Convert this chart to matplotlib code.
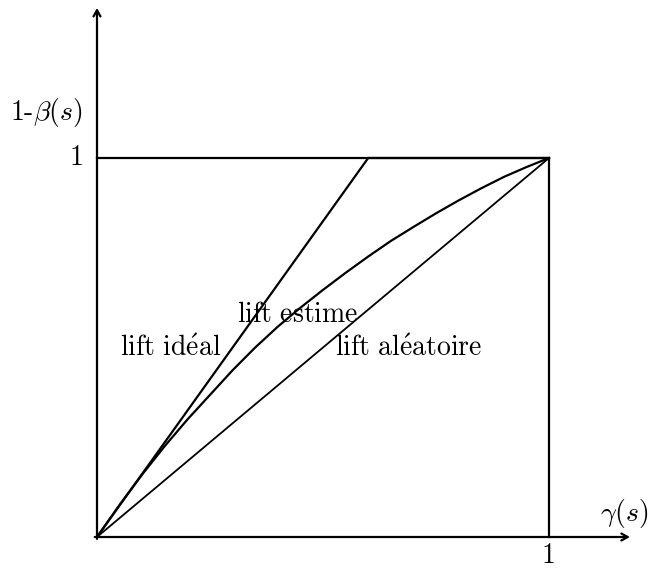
import matplotlib
matplotlib.use("Agg")
import matplotlib.pyplot as plt

plt.rcParams['mathtext.fontset'] = 'cm'
plt.rcParams['font.family'] = 'cmr10'
plt.rcParams['axes.formatter.use_mathtext'] = True

# lift curves: ideal, estimated, random
ideal_x = [0, 0.60, 1.0]
ideal_y = [0, 1.0, 1.0]
est_x = [0, 0.05, 0.10, 0.15, 0.20, 0.25, 0.30, 0.35, 0.40, 0.45, 0.50,
         0.55, 0.60, 0.65, 0.70, 0.75, 0.80, 0.85, 0.90, 0.95, 1.0]
est_y = [0, 0.085, 0.165, 0.24, 0.31, 0.375, 0.44, 0.50, 0.555, 0.605, 0.652,
         0.697, 0.74, 0.781, 0.818, 0.854, 0.888, 0.92, 0.95, 0.976, 1.0]
rand_x = [0, 1.0]
rand_y = [0, 1.0]

labels = [r'$\mathrm{lift\ id\acute{e}al}$',
          r'$\mathrm{lift\ estime}$',
          r'$\mathrm{lift\ al\acute{e}atoire}$']
label_pos = [(0.162, 0.478), (0.444, 0.567), (0.690, 0.478)]

fig = plt.figure(figsize=(6.49, 5.69), dpi=100)
ax = fig.add_axes([0, 0, 1, 1])
ax.set_xlim(-97 / 452, (649 - 97) / 452)
ax.set_ylim(-(569 - 537) / 379, 537 / 379)
ax.axis('off')

thick = 1.6
# box
ax.plot([0, 1, 1], [1, 1, 0], color='black', lw=thick, solid_joinstyle='miter')
ax.plot(ideal_x, ideal_y, color='black', lw=thick)
ax.plot(est_x, est_y, color='black', lw=thick, solid_joinstyle='round')
ax.plot(rand_x, rand_y, color='black', lw=1.3)

# axes with arrows
arrow = dict(arrowstyle='->,head_length=0.45,head_width=0.25', color='black', lw=thick,
             shrinkA=0, shrinkB=0)
ax.annotate('', xy=(1.179, 0), xytext=(-0.005, 0), arrowprops=arrow)
ax.annotate('', xy=(0, 1.396), xytext=(0, -0.005), arrowprops=arrow)

fs = 20
ax.text(-0.113, 1.119, r'1-$\beta(s)$', fontsize=fs, ha='center', va='center')
ax.text(-0.029, 1.0, '1', fontsize=fs, ha='right', va='center')
ax.text(1.166, 0.063, r'$\gamma(s)$', fontsize=fs, ha='center', va='center')
ax.text(1.0, -0.05, '1', fontsize=fs, ha='center', va='center')

for txt, (x, y) in zip(labels, label_pos):
    ax.text(x, y, txt, fontsize=fs, ha='center', va='baseline')

fig.savefig('out.png', dpi=100)
